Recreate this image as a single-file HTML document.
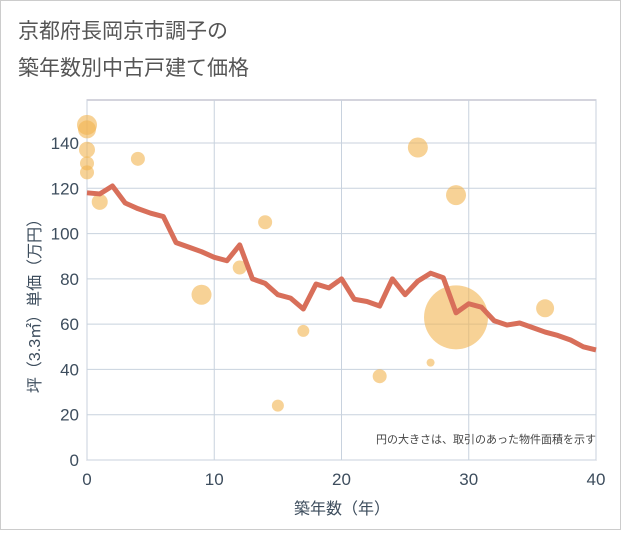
<!DOCTYPE html>
<html><head><meta charset="utf-8"><style>
body{margin:0;background:#fff;font-family:"Liberation Sans","Noto Sans CJK JP",sans-serif}
</style></head><body>
<svg width="621" height="530" xmlns="http://www.w3.org/2000/svg">
<rect x="0.5" y="0.5" width="620" height="529" fill="#fff" stroke="#ccc"/>
<text x="18" y="38" font-size="21" fill="#555" font-family="Liberation Sans, Noto Sans CJK JP, sans-serif">京都府長岡京市調子の</text>
<text x="18" y="75" font-size="21" fill="#555" font-family="Liberation Sans, Noto Sans CJK JP, sans-serif">築年数別中古戸建て価格</text>
<g id="grid"></g><g id="bubbles"></g><g id="line"></g><g id="axes"></g>
<text x="596" y="443" font-size="11" fill="#444" text-anchor="end" font-family="Liberation Sans, Noto Sans CJK JP, sans-serif">円の大きさは、取引のあった物件面積を示す</text>
<text x="342" y="514" font-size="16" fill="#3d4d5d" text-anchor="middle" font-family="Liberation Sans, Noto Sans CJK JP, sans-serif">築年数（年）</text>
<text transform="translate(40,302) rotate(-90)" font-size="16" fill="#3d4d5d" text-anchor="middle" font-family="Liberation Sans, Noto Sans CJK JP, sans-serif">坪（3.3㎡）単価（万円）</text>
</svg>
<script>
const xTicks=[0,10,20,30,40];
const yTicks=[0,20,40,60,80,100,120,140];
const lineYears=[0,1,2,3,4,5,6,7,8,9,10,11,12,13,14,15,16,17,18,19,20,21,22,23,24,25,26,27,28,29,30,31,32,33,34,35,36,37,38,39,40];
const lineValues=[118,117.5,121,113.5,111,109,107.5,96,94,92,89.5,88,95,80,78,73,71.5,66.7,77.7,76,80,71,70,68,80,73,79,82.5,80.5,65,69,67.5,61.5,59.6,60.5,58.5,56.5,55,53,50,48.6];
const bubbleYears=[0,0,0,0,0,1,4,9,12,14,15,17,23,26,27,29,29,36];
const bubbleValues=[148,146,137,131,127,114,133,73,85,105,24,57,37,138,43,117,63,67];
const bubbleRadii=[10,9,8,7,7,8,7,10,7,7,6,6,7,10,4,10,32,9];
const X=v=>87+v*(596-87)/40, Y=v=>460-v*(460-143)/140;
const NS="http://www.w3.org/2000/svg";
function mk(t,a,p){const e=document.createElementNS(NS,t);for(const k in a)e.setAttribute(k,a[k]);p.appendChild(e);return e;}
const g=document.getElementById('grid'),ax=document.getElementById('axes');
mk('rect',{x:87,y:100,width:509,height:360,fill:'none',stroke:'#aab'},g);
xTicks.forEach(t=>{const l=mk('line',{x1:X(t),x2:X(t),y1:100,y2:460,stroke:'#c8d2de'},g);

const tx=mk('text',{x:X(t),y:485,'font-size':17,fill:'#3d4d5d','text-anchor':'middle'},ax);tx.textContent=t;
});
yTicks.forEach(t=>{const l=mk('line',{x1:87,x2:596,y1:Y(t),y2:Y(t),stroke:'#c8d2de'},g);

const tx=mk('text',{x:79,y:Y(t)+6,'font-size':17,fill:'#3d4d5d','text-anchor':'end'},ax);tx.textContent=t;
});
const b=document.getElementById('bubbles');
bubbleYears.forEach((yr,i)=>{const c=mk('circle',{cx:X(yr),cy:Y(bubbleValues[i]),r:bubbleRadii[i],fill:'#f2b450','fill-opacity':0.6},b);
});
const p=mk('polyline',{points:lineYears.map((yr,i)=>X(yr)+','+Y(lineValues[i])).join(' '),fill:'none',stroke:'#d86f5a','stroke-width':5,'stroke-linejoin':'round'},document.getElementById('line'));

</script>
</body></html>
